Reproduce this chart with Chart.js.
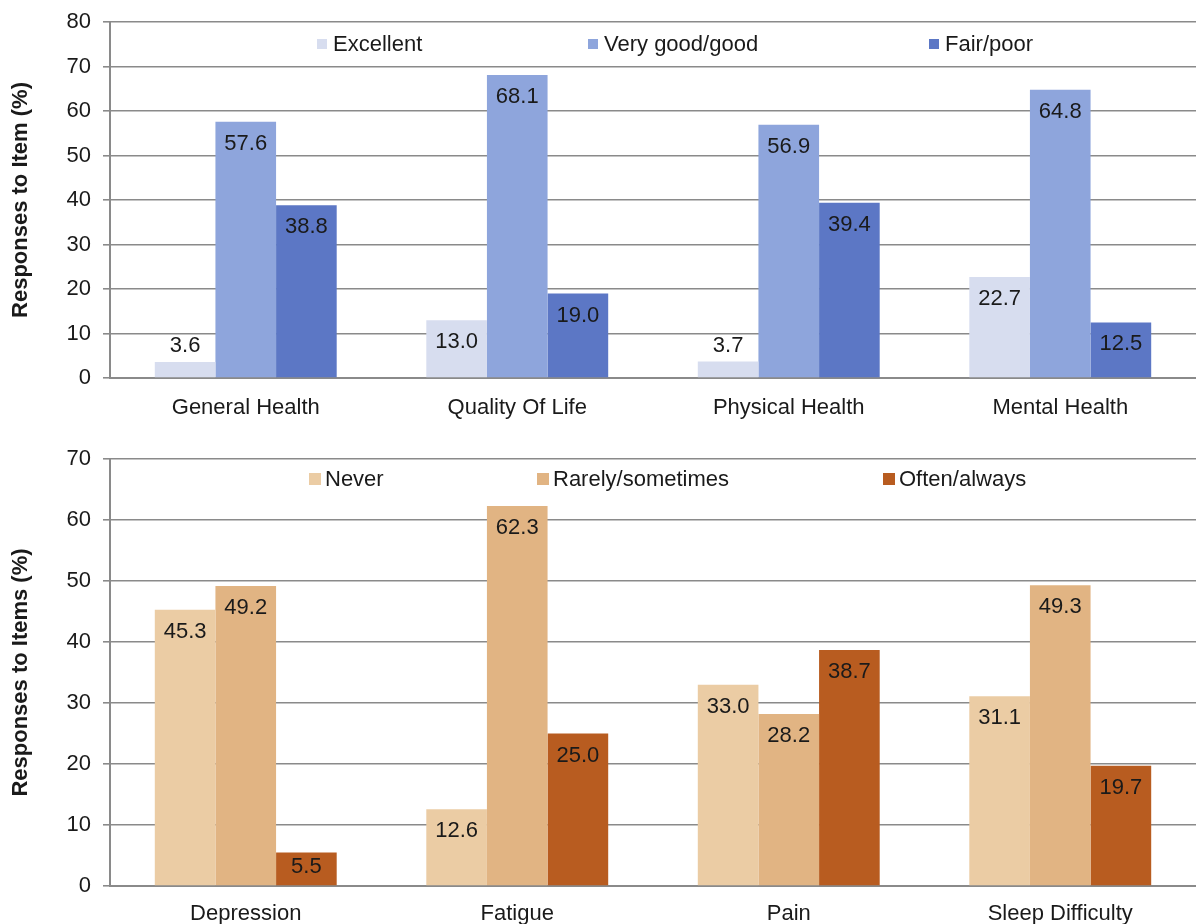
<!DOCTYPE html>
<html>
<head>
<meta charset="utf-8">
<script src="https://cdn.jsdelivr.net/npm/chart.js@4/dist/chart.umd.min.js"></script>
<style>
  html, body { margin: 0; padding: 0; background: #fff; }
  #wrap { position: relative; width: 1196px; height: 924px; }
  canvas { position: absolute; left: 0; }
</style>
</head>
<body>
<div id="wrap">
  <canvas id="health" width="1196" height="432" style="top:0px"></canvas>
  <canvas id="symptoms" width="1196" height="484" style="top:440px"></canvas>
</div>
<script>
// Self-rated health items (%)
const healthItems = ['General Health', 'Quality Of Life', 'Physical Health', 'Mental Health'];
const excellent = [3.6, 13.0, 3.7, 22.7];
const veryGoodGood = [57.6, 68.1, 56.9, 64.8];
const fairPoor = [38.8, 19.0, 39.4, 12.5];

// Symptom frequency items (%)
const symptomItems = ['Depression', 'Fatigue', 'Pain', 'Sleep Difficulty'];
const never = [45.3, 12.6, 33.0, 31.1];
const rarelySometimes = [49.2, 62.3, 28.2, 49.3];
const oftenAlways = [5.5, 25.0, 38.7, 19.7];

// Value axis ranges
const healthAxis = { min: 0, max: 80, step: 10 };
const symptomAxis = { min: 0, max: 70, step: 10 };

const FONT = '"Liberation Sans", Arial, Helvetica, sans-serif';
const TEXT = '#1a1a1a';
const GRID = '#8a8a8a';
const SIZE = 22;

Chart.defaults.font.family = FONT;
Chart.defaults.font.size = SIZE;
Chart.defaults.color = TEXT;

// Value printed on each bar: near the top inside tall bars, above very short ones
const valueLabels = {
  id: 'valueLabels',
  afterDatasetsDraw(chart) {
    const ctx = chart.ctx;
    ctx.save();
    ctx.font = SIZE + 'px ' + FONT;
    ctx.fillStyle = TEXT;
    ctx.textAlign = 'center';
    ctx.textBaseline = 'middle';
    chart.data.datasets.forEach((ds, i) => {
      chart.getDatasetMeta(i).data.forEach((bar, j) => {
        const v = ds.data[j];
        const h = bar.base - bar.y;
        let y;
        if (h < 26) y = bar.y - 16;
        else if (h < 46) y = bar.y + h / 2 - 2;
        else y = bar.y + 22;
        ctx.fillText(v.toFixed(1), bar.x, y);
      });
    });
    ctx.restore();
  }
};

// Legend drawn inside the top band of the plot
const insideLegend = {
  id: 'insideLegend',
  afterDraw(chart, args, opts) {
    const ctx = chart.ctx;
    ctx.save();
    ctx.font = SIZE + 'px ' + FONT;
    ctx.textAlign = 'left';
    ctx.textBaseline = 'middle';
    chart.data.datasets.forEach((ds, i) => {
      const x = opts.x[i];
      ctx.fillStyle = ds.backgroundColor;
      ctx.fillRect(x, opts.y - opts.box / 2, opts.box, opts.box);
      ctx.fillStyle = TEXT;
      ctx.fillText(ds.label, x + 16, opts.y + 1);
    });
    ctx.restore();
  }
};

function makeChart(id, labels, sets, axis, title, cfg) {
  return new Chart(document.getElementById(id), {
    type: 'bar',
    data: {
      labels: labels,
      datasets: sets.map(s => ({
        label: s.label,
        data: s.data,
        backgroundColor: s.color,
        borderWidth: 0,
        barPercentage: 1.0,
        categoryPercentage: 0.67
      }))
    },
    options: {
      responsive: false,
      animation: false,
      layout: { padding: { top: cfg.top, right: 0, left: 0, bottom: 0 } },
      plugins: {
        legend: { display: false },
        tooltip: { enabled: false },
        insideLegend: { x: cfg.legendX, y: cfg.legendY, box: cfg.box }
      },
      scales: {
        x: {
          grid: { display: false },
          border: { display: true, color: GRID, width: 2 },
          ticks: { color: TEXT, padding: cfg.xPad, font: { size: SIZE }, maxRotation: 0, autoSkip: false },
          afterFit(scale) {
            scale.height = cfg.xHeight;
            scale.paddingLeft = 0;
            scale.paddingRight = 0;
          }
        },
        y: {
          min: axis.min,
          max: axis.max,
          ticks: { stepSize: axis.step, color: TEXT, padding: 12, font: { size: SIZE } },
          grid: { color: GRID, lineWidth: 1.6, tickLength: 7, drawTicks: true },
          border: { display: true, color: GRID, width: 2 },
          title: {
            display: true,
            text: title,
            color: TEXT,
            font: { size: SIZE, weight: 'bold' },
            padding: { top: 8, bottom: 0 }
          },
          afterFit(scale) {
            scale.width = 110;
            scale.paddingTop = 0;
            scale.paddingBottom = 0;
          }
        }
      }
    },
    plugins: [valueLabels, insideLegend]
  });
}

makeChart('health', healthItems, [
  { label: 'Excellent', data: excellent, color: '#d7ddef' },
  { label: 'Very good/good', data: veryGoodGood, color: '#8ea5dc' },
  { label: 'Fair/poor', data: fairPoor, color: '#5c77c5' }
], healthAxis, 'Responses to Item (%)',
  { top: 22, xHeight: 54, xPad: 9, legendX: [317, 588, 929], legendY: 44, box: 10 });

makeChart('symptoms', symptomItems, [
  { label: 'Never', data: never, color: '#ebcca4' },
  { label: 'Rarely/sometimes', data: rarelySometimes, color: '#e1b483' },
  { label: 'Often/always', data: oftenAlways, color: '#b85c20' }
], symptomAxis, 'Responses to Items (%)',
  { top: 19, xHeight: 38, xPad: 7, legendX: [309, 537, 883], legendY: 39, box: 12 });
</script>
</body>
</html>
